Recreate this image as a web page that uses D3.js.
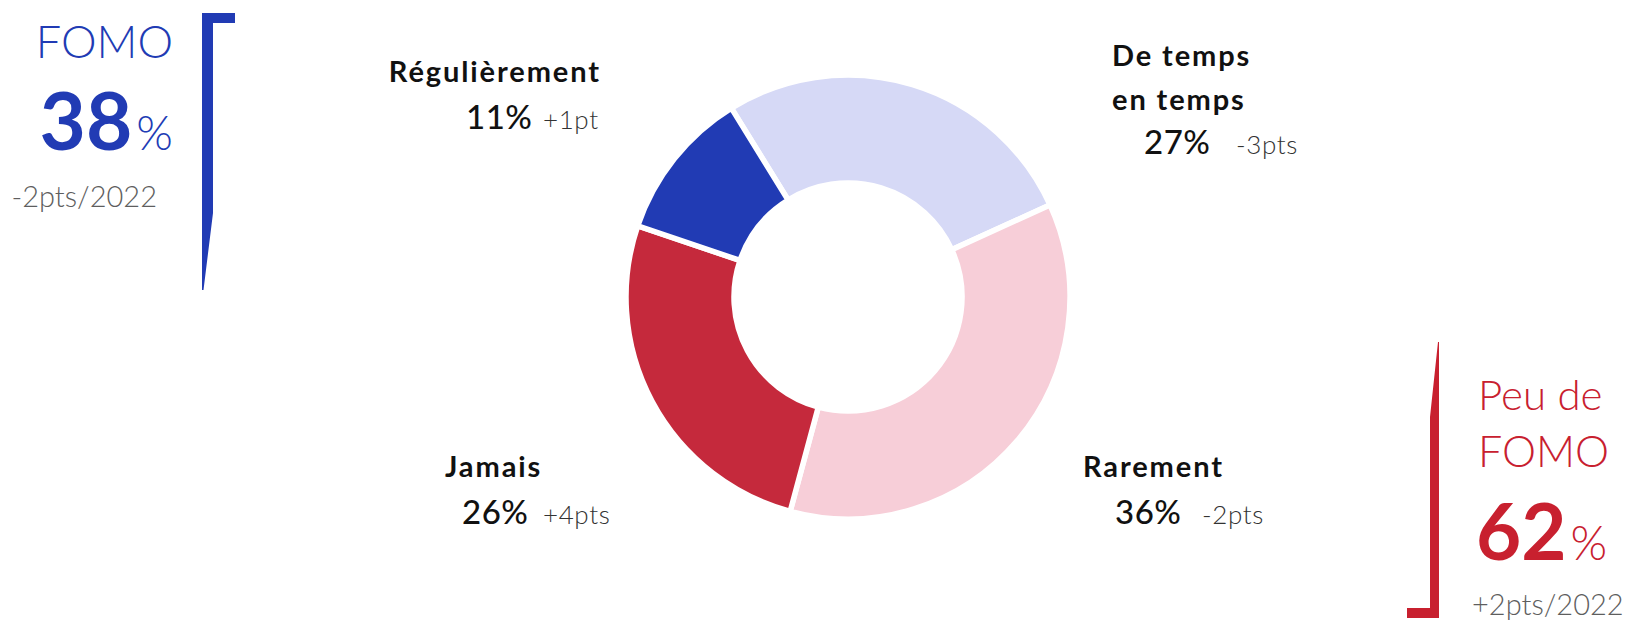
<!DOCTYPE html>
<html>
<head>
<meta charset="utf-8">
<script src="https://cdn.jsdelivr.net/npm/d3@7"></script>
<style>
  body { margin: 0; background: #fff; }
  svg text { font-family: Lato, "Open Sans", sans-serif; }
</style>
</head>
<body>
<script>
const width = 1625;
const height = 622;

// slices, clockwise from the top-left gap
const categories = ["De temps en temps", "Rarement", "Jamais", "Régulièrement"];
const values = [27, 36, 26, 11];
const deltas = ["-3pts", "-2pts", "+4pts", "+1pt"];

// side totals
const groups = ["FOMO", "Peu de FOMO"];
const groupValues = [38, 62];
const groupDeltas = ["-2pts/2022", "+2pts/2022"];

const sliceColors = ["#d6d9f6", "#f7ced8", "#c5293c", "#213bb4"];
const blue = "#213bb4";
const red = "#c8202f";
const grey = "#5e5e5e";

const cx = 848, cy = 297;
const outerR = 222, innerR = 114;
const start = -31.7 * Math.PI / 180;

let svg = d3.select("body")
    .append("svg")
    .attr("width", width)
    .attr("height", height);

let pie = d3.pie()
    .sort(null)
    .value(function(d) { return d; })
    .startAngle(start)
    .endAngle(start + 2 * Math.PI);

let arc = d3.arc()
    .innerRadius(innerR)
    .outerRadius(outerR);

svg.append("g")
    .attr("transform", "translate(" + cx + "," + cy + ")")
    .selectAll("path")
    .data(pie(values))
    .enter()
    .append("path")
    .attr("d", arc)
    .attr("fill", function(d, i) { return sliceColors[i]; })
    .attr("stroke", "#fff")
    .attr("stroke-width", 5.5);

// label layout: one entry per slice, same order as categories
const labelPos = [
    { lines: ["De temps", "en temps"], x: 1112, anchor: "start", y: [66, 110], py: 154, px: 1144, dx: 1236 },
    { lines: ["Rarement"], x: 1083, anchor: "start", y: [477], py: 524, px: 1115, dx: 1202 },
    { lines: ["Jamais"], x: 445, anchor: "start", y: [477], py: 524, px: 462, dx: 543 },
    { lines: ["Régulièrement"], x: 601, anchor: "end", y: [82], py: 129, px: 466, dx: 543 }
];

let labels = svg.append("g").selectAll("g")
    .data(labelPos)
    .enter()
    .append("g");

labels.each(function(p, i) {
    let g = d3.select(this);
    p.lines.forEach(function(line, j) {
        g.append("text")
            .attr("x", p.x)
            .attr("y", p.y[j])
            .attr("text-anchor", p.anchor)
            .attr("font-size", 29)
            .attr("font-weight", 700)
            .attr("letter-spacing", 1.9)
            .attr("fill", "#111")
            .text(line);
    });
    g.append("text")
        .attr("x", p.px)
        .attr("y", p.py)
        .attr("font-size", 33)
        .attr("font-weight", 500)
        .attr("letter-spacing", 0.5)
        .attr("fill", "#111")
        .text(values[i] + "%");
    g.append("text")
        .attr("x", p.dx)
        .attr("y", p.py)
        .attr("font-size", 26)
        .attr("font-weight", 300)
        .attr("letter-spacing", 0.6)
        .attr("fill", "#333")
        .text(deltas[i]);
});

// left block : FOMO
let left = svg.append("g");
left.append("text")
    .attr("x", 173).attr("y", 58)
    .attr("text-anchor", "end")
    .attr("font-size", 45).attr("font-weight", 300)
    .attr("fill", blue)
    .text(groups[0]);
let lt = left.append("text")
    .attr("x", 173).attr("y", 150)
    .attr("text-anchor", "end")
    .attr("fill", blue);
lt.append("tspan").attr("font-size", 80).attr("font-weight", 700).text(groupValues[0]);
lt.append("tspan").attr("font-size", 47).attr("font-weight", 300).attr("dx", 4).text("%");
left.append("text")
    .attr("x", 157).attr("y", 207)
    .attr("text-anchor", "end")
    .attr("font-size", 29).attr("font-weight", 300)
    .attr("fill", grey)
    .text(groupDeltas[0]);
left.append("path")
    .attr("d", "M202,13 L235,13 L235,23 L213,23 L213,213 L203.5,290 L202,290 Z")
    .attr("fill", blue);

// right block : Peu de FOMO
let right = svg.append("g");
right.append("text")
    .attr("x", 1478).attr("y", 410)
    .attr("font-size", 42).attr("font-weight", 300)
    .attr("fill", red)
    .text("Peu de");
right.append("text")
    .attr("x", 1478).attr("y", 467)
    .attr("font-size", 43).attr("font-weight", 300)
    .attr("fill", red)
    .text("FOMO");
let rt = right.append("text")
    .attr("x", 1476).attr("y", 560)
    .attr("fill", red);
rt.append("tspan").attr("font-size", 78).attr("font-weight", 700).text(groupValues[1]);
rt.append("tspan").attr("font-size", 47).attr("font-weight", 300).attr("dx", 4).text("%");
right.append("text")
    .attr("x", 1472).attr("y", 615)
    .attr("font-size", 29).attr("font-weight", 300)
    .attr("fill", grey)
    .text(groupDeltas[1]);
right.append("path")
    .attr("d", "M1438,342 L1439,342 L1439,618 L1407,618 L1407,608 L1430,608 L1430,417 Z")
    .attr("fill", red);
</script>
</body>
</html>
